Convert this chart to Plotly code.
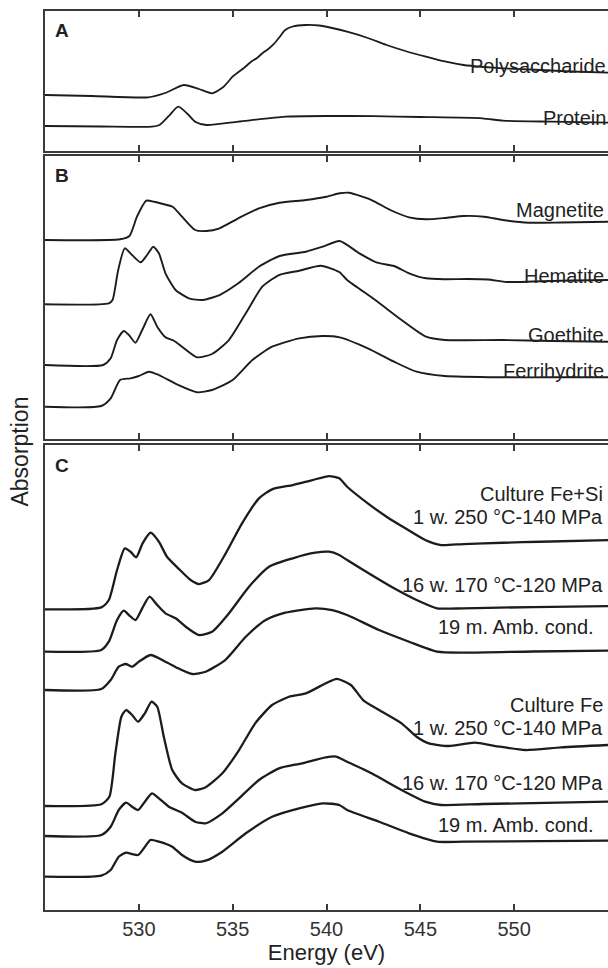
import plotly.graph_objects as go

# ---------------- data (energy in eV, absorption in arbitrary offset units) ----------------
# Panel A
poly_e = [525.0, 527.5, 530.5, 531.4, 532.4, 533.2, 533.9, 534.5, 535.0, 535.6, 536.0, 536.3, 536.6, 536.9,
          537.2, 537.5, 537.8, 538.2, 538.9, 539.6, 540.3, 541.1, 542.2, 543.2, 544.2, 545.3,
          546.3, 547.3, 548.4, 549.4, 551.4, 553.0, 555.0]
poly_a = [56, 55, 53.7, 58, 66, 62, 57.7, 64, 74.3, 83, 89.5, 93, 98, 102, 107, 114, 121, 124.5, 126,
          125.5, 123, 119.3, 113, 106, 100, 94.3, 89.5, 86, 84, 82.7, 81, 79.5, 78.3]
prot_e = [525.0, 528.0, 530.7, 531.1, 531.6, 532.1, 532.6, 533.0, 533.6, 535.3, 537.8, 540.0, 542.5, 545.0,
          548.3, 549.4, 552.0, 555.0]
prot_a = [25, 24.5, 24.3, 26, 35, 44.3, 37, 29.3, 26, 29.3, 34.3, 35, 34.8, 34, 32.7, 30.3, 29.3, 28.3]

# Panel B
mag_e = [525.0, 529.0, 529.5, 529.9, 530.4, 530.8, 531.3, 531.8, 532.3, 533.0, 533.6, 534.3, 535.3, 536.4,
         537.5, 538.9, 540.0, 540.7, 541.2, 542.4, 543.4, 544.4, 545.3, 546.3, 547.3, 548.4, 549.4, 550.8,
         552.5, 555.0]
mag_a = [199, 199.7, 203, 222.3, 238.3, 237.3, 235, 232.3, 222.3, 209, 208, 210.7, 220.7, 230.7, 236.3, 239,
         242.3, 245.7, 246.3, 239, 229, 221.7, 219.7, 221, 223, 222.3, 219, 216.3, 216.5, 217.3]
hem_e = [525.0, 528.4, 528.6, 528.9, 529.25, 529.64, 530.1, 530.44, 530.77, 531.07, 531.42, 531.96, 532.67,
         533.4, 534.3, 535.3, 536.4, 537.5, 538.9, 539.8, 540.7, 541.75, 542.7, 543.6, 544.4, 545.3, 546.3,
         547.5, 548.6, 549.6, 551.0, 553.0, 555.0]
hem_a = [134.7, 135.7, 139, 169, 190.7, 184, 176.7, 184, 192.3, 185.7, 165.7, 149, 140.7, 139, 144, 155.7,
         172.3, 183, 187.3, 192.3, 198, 185.7, 176.3, 173, 165.7, 160.7, 159.8, 160, 159.5, 157, 157.5,
         158.5, 159]
goe_e = [525.0, 528.1, 528.5, 528.84, 529.2, 529.47, 529.82, 530.18, 530.62, 530.98, 531.42, 531.87, 532.3,
         533.1, 533.9, 534.8, 535.7, 536.58, 537.47, 538.54, 539.7, 540.68, 541.1, 542.6, 544.0, 545.3, 546.3,
         549.4, 552.0, 555.0]
goe_a = [74, 74, 80.7, 99, 108, 104, 96.3, 109, 124.7, 112.3, 101.7, 98.3, 92.3, 81.7, 85, 99, 125.7, 152.3,
         164, 168.3, 173.3, 167, 159, 139, 119, 102.3, 99, 99, 98, 97.3]
fer_e = [525.0, 528.0, 528.5, 529.0, 529.56, 530.0, 530.53, 531.07, 532.1, 533.1, 533.9, 535.0, 536.05, 537.1,
         538.54, 539.8, 540.7, 542.2, 543.6, 544.8, 546.3, 549.4, 552.0, 555.0]
fer_a = [32.3, 33, 40.7, 59, 60.7, 63, 67.3, 64, 54, 46.7, 49, 59, 79, 92.3, 100.7, 103, 101.7, 90.7, 77.3,
         67.3, 63, 61.7, 61.7, 61.7]

# Panel C
c1_e = [525.0, 528.0, 528.4, 528.84, 529.25, 529.56, 529.86, 530.2, 530.62, 531.07, 531.5, 532.1, 532.76,
        533.2, 533.74, 534.63, 535.5, 536.4, 537.1, 538.2, 539.25, 540.14, 540.68, 541.1, 542.2, 543.2, 544.2,
        545.26, 546.1, 547.3, 549.4, 551.4, 555.0]
c1_a = [300.7, 302.7, 310, 340, 361.7, 358.3, 352.7, 366.7, 377.3, 368.3, 353.3, 341.7, 330, 326, 330, 356.7,
        386.7, 411.7, 420.7, 425, 430, 434, 431.7, 423.3, 406.7, 393.3, 381.7, 370, 365, 366, 367.3, 368.3, 370]
c2_e = [525.0, 528.0, 528.4, 528.84, 529.2, 529.47, 529.82, 530.18, 530.57, 530.98, 531.42, 531.96, 532.5,
        533.2, 533.9, 534.8, 535.87, 536.94, 538.2, 539.4, 540.14, 540.68, 541.1, 542.4, 543.6, 544.8, 545.9,
        547.3, 551.0, 555.0]
c2_a = [258.3, 260, 268.3, 290, 299.3, 295, 290, 301.7, 313.3, 305, 296.7, 291.7, 283.3, 275, 278.3, 296.7,
        323.3, 343.3, 351.7, 357.3, 358.3, 355, 350, 335, 321.7, 310, 301.7, 301.7, 303, 304]
c3_e = [525.0, 528.0, 528.5, 528.93, 529.3, 529.64, 530.0, 530.62, 531.42, 532.1, 532.85, 533.56, 534.6, 535.7,
        536.76, 537.8, 539.4, 540.3, 541.1, 542.8, 544.4, 545.9, 547.3, 551.0, 555.0]
c3_a = [220, 221, 230, 243.3, 246, 243.3, 248.3, 255, 248.3, 241.7, 236, 238.3, 250, 273.3, 290, 297.3, 301.7,
        300, 295, 280, 268.3, 258.3, 257.3, 258.5, 259.3]
c4_e = [525.0, 528.0, 528.43, 528.75, 529.07, 529.32, 529.64, 529.96, 530.32, 530.68, 530.98, 531.33, 531.78,
        532.3, 533.0, 533.56, 534.45, 535.34, 536.2, 537.1, 538.0, 538.9, 539.96, 540.55, 541.3, 541.95, 542.8,
        544.0, 544.8, 545.46, 546.5, 547.9, 549.0, 550.6, 552.5, 555.0]
c4_a = [104, 105.7, 113.3, 156.7, 193.3, 200, 195, 188.3, 196.7, 208.3, 203.3, 173.3, 140, 126.7, 120, 122.7,
        136.7, 160, 186.7, 205, 213.3, 216.7, 226.7, 231.2, 225, 210, 200, 186.7, 173.3, 166.7, 164, 167.3, 164,
        160, 162.7, 165]
c5_e = [525.0, 528.0, 528.5, 528.93, 529.32, 529.64, 529.96, 530.32, 530.7, 531.07, 531.6, 532.3, 533.0, 533.56,
        534.45, 535.34, 536.4, 537.47, 538.7, 539.96, 540.5, 541.1, 542.4, 544.0, 545.26, 546.1, 548.35, 555.0]
c5_a = [74, 75, 83.3, 100, 107.3, 103.3, 100, 108.3, 116.7, 111.7, 103.3, 97.3, 88.3, 86.7, 96.7, 111.7, 130,
        141.7, 146.7, 152.7, 153.5, 148.3, 136.7, 120, 108.3, 105, 106, 108.3]
c6_e = [525.0, 528.0, 528.5, 528.93, 529.32, 529.64, 529.96, 530.27, 530.62, 531.07, 531.78, 532.3, 533.0,
        533.56, 534.45, 535.7, 537.1, 538.54, 539.8, 540.68, 541.1, 542.8, 544.4, 545.9, 547.3, 555.0]
c6_a = [33.3, 34.3, 40, 53.3, 57.3, 56, 55, 61.7, 70, 68.3, 63.3, 55, 48.3, 49.3, 58.3, 76.7, 93.3, 101.7,
        106.7, 105, 100, 88.3, 76.7, 68.3, 68.3, 69.3]

panel_letters = ["A", "B", "C"]
labels_a = ["Polysaccharide", "Protein"]
labels_a_y = [85, 33]
labels_b = ["Magnetite", "Hematite", "Goethite", "Ferrihydrite"]
labels_b_y = [229, 163, 104, 68]
labels_c = ["Culture Fe+Si", "1 w. 250 °C-140 MPa", "16 w. 170 °C-120 MPa", "19 m. Amb. cond.",
            "Culture Fe", "1 w. 250 °C-140 MPa", "16 w. 170 °C-120 MPa", "19 m. Amb. cond."]
labels_c_y = [416, 393, 325, 283, 205, 182, 127, 85]
tick_vals = [530, 535, 540, 545, 550]
tick_text = ["530", "535", "540", "545", "550"]

FONT = "Liberation Sans, Arial, sans-serif"
LINE = "#1c1c1c"
AX = "#3a3a3a"

fig = go.Figure()

def add_curve(e, a, xa, ya, w):
    fig.add_trace(go.Scatter(x=e, y=a, xaxis=xa, yaxis=ya, mode="lines",
                             line=dict(color=LINE, width=w, shape="spline", smoothing=0.6),
                             showlegend=False, hoverinfo="skip"))

add_curve(poly_e, poly_a, "x", "y", 1.8)
add_curve(prot_e, prot_a, "x", "y", 1.8)
for e, a in [(mag_e, mag_a), (hem_e, hem_a), (goe_e, goe_a), (fer_e, fer_a)]:
    add_curve(e, a, "x2", "y2", 1.9)
for e, a in [(c1_e, c1_a), (c2_e, c2_a), (c3_e, c3_a), (c4_e, c4_a), (c5_e, c5_a), (c6_e, c6_a)]:
    add_curve(e, a, "x3", "y3", 2.3)

xcommon = dict(range=[525, 555], showline=True, linecolor=AX, linewidth=2, mirror="ticks",
               ticks="inside", ticklen=6, tickwidth=1.5, tickcolor=AX, tickvals=tick_vals,
               showgrid=False, zeroline=False)
ycommon = dict(showline=True, linecolor=AX, linewidth=2, mirror=False, ticks="",
               showticklabels=False, showgrid=False, zeroline=False)

fig.update_layout(
    width=608, height=968,
    margin=dict(l=45, r=0, t=11, b=58),
    paper_bgcolor="white", plot_bgcolor="white",
    font=dict(family=FONT, color="#222", size=20),
    xaxis=dict(anchor="y", showticklabels=False, **xcommon),
    xaxis2=dict(anchor="y2", showticklabels=False, matches="x", **xcommon),
    xaxis3=dict(anchor="y3", showticklabels=True, ticktext=tick_text, matches="x",
                tickfont=dict(size=20, family=FONT, color="#333"),
                title=dict(text="Energy (eV)", font=dict(size=22, family=FONT, color="#222"), standoff=5),
                **xcommon),
    yaxis=dict(domain=[0.8443, 1.0], range=[0, 140], anchor="x", **ycommon),
    yaxis2=dict(domain=[0.5239, 0.8387], range=[0, 283], anchor="x2", **ycommon),
    yaxis3=dict(domain=[0.0, 0.5172], range=[0, 465], anchor="x3", **ycommon),
)

ann = []
for letter, ya, yv in zip(panel_letters, ["y", "y2", "y3"], [121, 264, 445]):
    xa = "x" if ya == "y" else "x" + ya[1:]
    ann.append(dict(text="<b>%s</b>" % letter, x=525.45, y=yv, xref=xa, yref=ya, xanchor="left",
                    yanchor="middle", showarrow=False, font=dict(size=19, family=FONT, color="#222")))
for txt, yv in zip(labels_a, labels_a_y):
    ann.append(dict(text=txt, x=555, y=yv, xref="x", yref="y", xanchor="right", yanchor="middle",
                    showarrow=False, xshift=0))
for txt, yv in zip(labels_b, labels_b_y):
    ann.append(dict(text=txt, x=555, y=yv, xref="x2", yref="y2", xanchor="right", yanchor="middle",
                    showarrow=False, xshift=-2))
for txt, yv in zip(labels_c, labels_c_y):
    shift = -12 if txt.startswith("19 m") else -3
    ann.append(dict(text=txt, x=555, y=yv, xref="x3", yref="y3", xanchor="right", yanchor="middle",
                    showarrow=False, xshift=shift))
ann.append(dict(text="Absorption", x=-0.0444, y=0.51, xref="paper", yref="paper", textangle=-90,
                xanchor="center", yanchor="middle", showarrow=False,
                font=dict(size=23, family=FONT, color="#222")))
fig.update_layout(annotations=ann)

fig.write_html("out.html")
